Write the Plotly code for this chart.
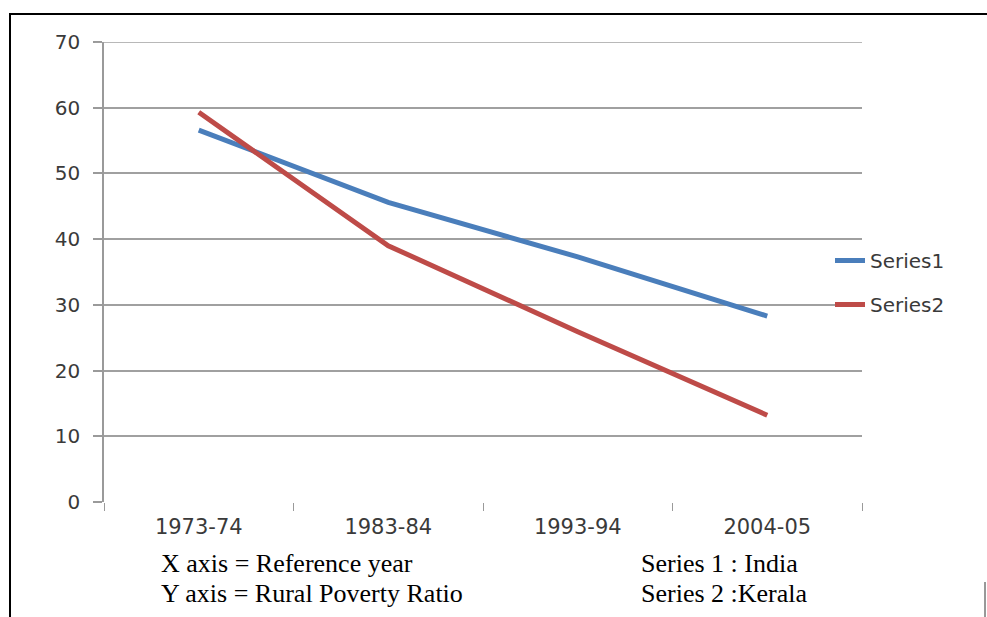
import plotly.graph_objects as go

# Rural poverty ratio (%) by reference year
years = ["1973-74", "1983-84", "1993-94", "2004-05"]
india = [56.6, 45.6, 37.3, 28.3]
kerala = [59.3, 39.0, 25.9, 13.2]
y_ticks = [0, 10, 20, 30, 40, 50, 60, 70]

W, H = 987, 617
L, R, T, B = 104, 862, 42, 502  # plot area in pixels


def px(x):
    return (x - L) / (R - L)


def py(y):
    return (B - y) / (B - T)


fig = go.Figure()
fig.add_trace(go.Scatter(x=years, y=india, mode="lines", name="Series1",
                         line=dict(color="#4a7ebb", width=5),
                         legendgroup="a"))
fig.add_trace(go.Scatter(x=years, y=kerala, mode="lines", name="Series2",
                         line=dict(color="#be4b48", width=5),
                         legendgroup="b"))

grey_text = "#3a3a3a"

fig.update_layout(
    width=W, height=H,
    margin=dict(l=L, r=W - R, t=T, b=H - B, pad=0),
    paper_bgcolor="white", plot_bgcolor="white",
    showlegend=True,
    legend=dict(x=px(830), y=py(241), xanchor="left", yanchor="top",
                font=dict(family="DejaVu Sans", size=20, color=grey_text),
                bgcolor="rgba(0,0,0,0)", traceorder="grouped",
                tracegroupgap=15),
    xaxis=dict(type="category", range=[-0.5, 3.5], tickson="boundaries",
               ticks="outside", ticklen=8, tickcolor="#9a9a9a", tickwidth=1,
               showgrid=False, showline=False, zeroline=False,
               tickfont=dict(family="DejaVu Sans", size=21, color=grey_text),
               ticklabelstandoff=10),
    yaxis=dict(range=[0, 70], tickvals=y_ticks, ticks="outside", ticklen=9,
               tickcolor="#9a9a9a", tickwidth=1.5,
               showgrid=True, gridcolor="#a0a0a0", gridwidth=1.5,
               showline=True, linecolor="#9a9a9a", linewidth=1.5,
               zeroline=False,
               tickfont=dict(family="DejaVu Sans", size=20, color=grey_text),
               ticklabelstandoff=9),
)

# Top gridline at the upper end of the value axis
fig.add_shape(type="line", xref="paper", yref="y",
              x0=px(95), x1=1, y0=y_ticks[-1], y1=y_ticks[-1],
              line=dict(color="#a0a0a0", width=1.5))

# Frame around the figure
fig.add_shape(type="line", xref="paper", yref="paper",
              x0=px(9), x1=px(987), y0=py(14), y1=py(14),
              line=dict(color="black", width=2))
fig.add_shape(type="line", xref="paper", yref="paper",
              x0=px(10), x1=px(10), y0=py(14), y1=py(617),
              line=dict(color="black", width=2))
fig.add_shape(type="line", xref="paper", yref="paper",
              x0=px(985), x1=px(985), y0=py(582), y1=py(617),
              line=dict(color="#333333", width=1))

# Notes under the chart
note_font = dict(family="Liberation Serif", size=26, color="black")
notes = [
    ("X axis = Reference year", 159, 563),
    ("Y axis = Rural Poverty Ratio", 159, 593),
    ("Series 1 : India", 639, 563),
    ("Series 2 :Kerala", 639, 593),
]
for text, x, y in notes:
    fig.add_annotation(text=text, xref="paper", yref="paper",
                       x=px(x), y=py(y), xanchor="left", yanchor="middle",
                       showarrow=False, font=note_font)

fig.write_html("out.html")
